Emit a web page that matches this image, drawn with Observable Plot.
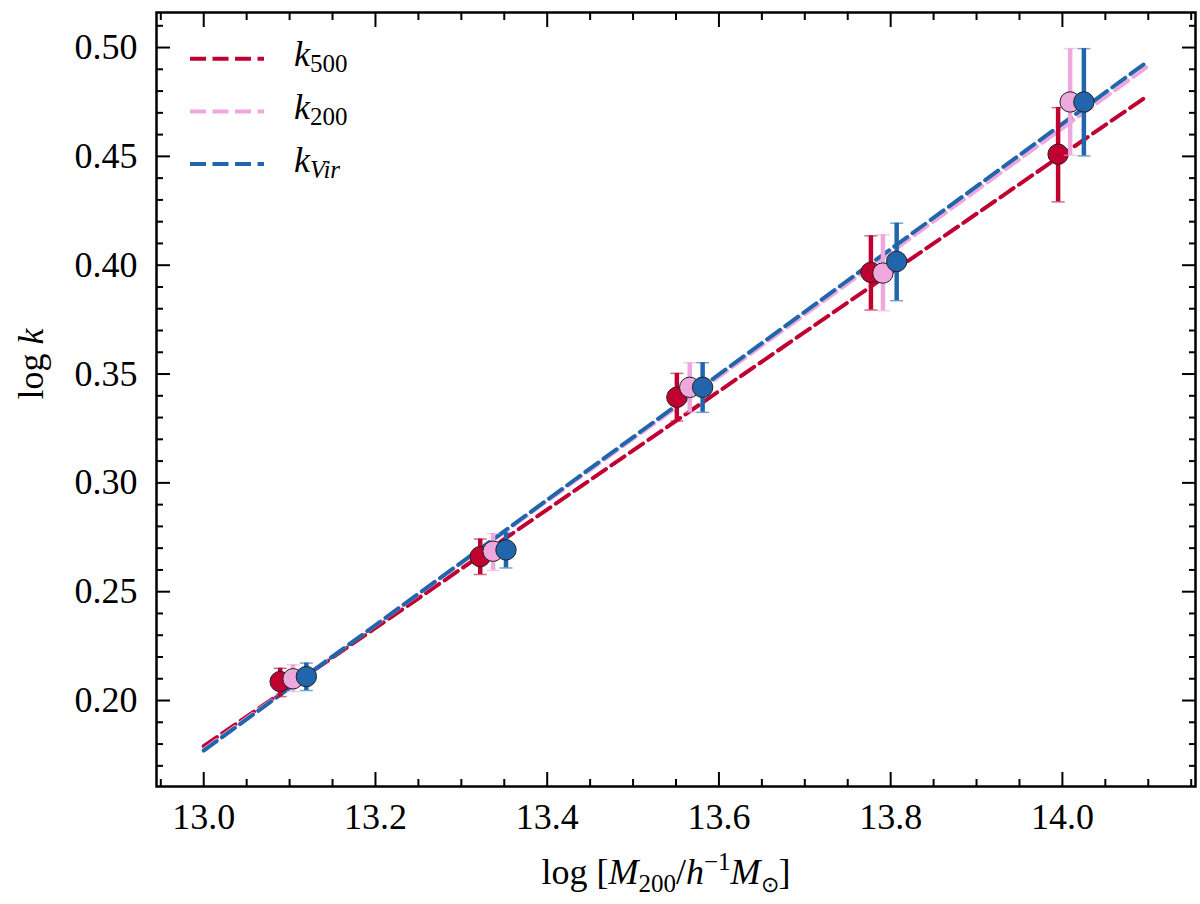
<!DOCTYPE html>
<html>
<head>
<meta charset="utf-8">
<script src="https://cdn.jsdelivr.net/npm/d3@7"></script>
<script src="https://cdn.jsdelivr.net/npm/@observablehq/plot@0.6"></script>
<style>
  html, body { margin: 0; padding: 0; background: white; overflow: hidden; }
  svg { display: block; }
</style>
</head>
<body>
<div id="chart"></div>
<script>
// ---- data ----
const seriesNames = ["k500", "k200", "kVir"];
const colors = ["#C00030", "#EEA8DE", "#2166AC"];

const k500X  = [13.089, 13.322, 13.551, 13.777, 13.995];
const k500Y  = [0.2087, 0.2661, 0.3393, 0.3967, 0.4510];
const k500Lo = [0.2018, 0.2579, 0.3284, 0.3794, 0.4291];
const k500Hi = [0.2148, 0.2742, 0.3503, 0.4135, 0.4724];

const k200X  = [13.104, 13.337, 13.566, 13.791, 14.009];
const k200Y  = [0.2100, 0.2686, 0.3439, 0.3964, 0.4750];
const k200Lo = [0.2041, 0.2598, 0.3324, 0.3791, 0.4505];
const k200Hi = [0.2164, 0.2767, 0.3552, 0.4140, 0.4995];

const kVirX  = [13.1195, 13.352, 13.581, 13.807, 14.025];
const kVirY  = [0.2110, 0.2692, 0.3439, 0.4017, 0.4750];
const kVirLo = [0.2046, 0.2609, 0.3324, 0.3837, 0.4502];
const kVirHi = [0.2172, 0.2770, 0.3552, 0.4193, 0.4995];

const fitX    = [13.0, 14.1];
const k500Fit = [0.179, 0.478];
const k200Fit = [0.1775, 0.4915];
const kVirFit = [0.177, 0.4938];

const xMajor = [13.0, 13.2, 13.4, 13.6, 13.8, 14.0];
const xMinor = [12.95, 13.05, 13.1, 13.15, 13.25, 13.3, 13.35, 13.45, 13.5, 13.55, 13.65, 13.7, 13.75, 13.85, 13.9, 13.95, 14.05, 14.1, 14.15];
const yMajor = [0.20, 0.25, 0.30, 0.35, 0.40, 0.45, 0.50];
const yMinor = [0.17, 0.18, 0.19, 0.21, 0.22, 0.23, 0.24, 0.26, 0.27, 0.28, 0.29, 0.31, 0.32, 0.33, 0.34, 0.36, 0.37, 0.38, 0.39, 0.41, 0.42, 0.43, 0.44, 0.46, 0.47, 0.48, 0.49, 0.51];

// ---- tables ----
const pts = [
  {x: k500X, y: k500Y, lo: k500Lo, hi: k500Hi},
  {x: k200X, y: k200Y, lo: k200Lo, hi: k200Hi},
  {x: kVirX, y: kVirY, lo: kVirLo, hi: kVirHi}
].map(s => s.x.map((x, i) => ({x, y: s.y[i], lo: s.lo[i], hi: s.hi[i]})));
const fits = [k500Fit, k200Fit, kVirFit].map(f => fitX.map((x, i) => ({x, y: f[i]})));

const FONT = "'Liberation Serif', 'Times New Roman', serif";
const FS = 36;
const DASH = "16,6.5";
const LW = 4;

// horizontal cap symbol
const capSymbol = {
  draw(context, size) {
    const r = Math.sqrt(size / Math.PI);
    context.moveTo(-r, 0);
    context.lineTo(r, 0);
  }
};

const marks = [];
fits.forEach((f, i) => {
  marks.push(Plot.line(f, {x: "x", y: "y", stroke: colors[i], strokeWidth: LW, strokeDasharray: DASH}));
});
pts.forEach((p, i) => {
  marks.push(Plot.ruleX(p, {x: "x", y1: "lo", y2: "hi", stroke: colors[i], strokeWidth: 4.5}));
  marks.push(Plot.dot(p, {x: "x", y: "lo", symbol: capSymbol, r: 6.5, stroke: colors[i], strokeWidth: 1.5, strokeOpacity: 0.6}));
  marks.push(Plot.dot(p, {x: "x", y: "hi", symbol: capSymbol, r: 6.5, stroke: colors[i], strokeWidth: 1.5, strokeOpacity: 0.6}));
  marks.push(Plot.dot(p, {x: "x", y: "y", r: 10.2, fill: colors[i], stroke: "#222", strokeWidth: 1}));
});

marks.push(Plot.axisX(xMajor, {anchor: "bottom", tickSize: 0, tickPadding: 17, tickFormat: d => d.toFixed(1), fontSize: FS, fontFamily: FONT, fontVariant: "normal", label: null}));
marks.push(Plot.axisY(yMajor, {anchor: "left", tickSize: 0, tickPadding: 19, tickFormat: d => d.toFixed(2), fontSize: FS, fontFamily: FONT, fontVariant: "normal", label: null}));
for (const a of ["bottom", "top"]) {
  marks.push(Plot.axisX(xMajor, {anchor: a, tickSize: -14, strokeWidth: 2, tickFormat: () => "", label: null}));
  marks.push(Plot.axisX(xMinor, {anchor: a, tickSize: -7, strokeWidth: 2, tickFormat: () => "", label: null}));
}
for (const a of ["left", "right"]) {
  marks.push(Plot.axisY(yMajor, {anchor: a, tickSize: -14, strokeWidth: 2, tickFormat: () => "", label: null}));
  marks.push(Plot.axisY(yMinor, {anchor: a, tickSize: -7, strokeWidth: 2, tickFormat: () => "", label: null}));
}
marks.push(Plot.frame({stroke: "black", strokeWidth: 2.5}));

marks.push(Plot.text(["log [M200/h-1M]"], {frameAnchor: "bottom", dy: 85.5, dx: -10, lineAnchor: "middle", fontSize: FS, fontFamily: FONT, className: "xlabel"}));
marks.push(Plot.text(["log k"], {frameAnchor: "left", dx: -125.5, rotate: -90, lineAnchor: "middle", fontSize: FS, fontFamily: FONT, className: "ylabel"}));

const chart = Plot.plot({
  width: 1200,
  height: 904,
  marginLeft: 156,
  marginRight: 5,
  marginTop: 12,
  marginBottom: 118,
  x: {domain: [12.945, 14.155]},
  y: {domain: [0.1605, 0.5161]},
  style: {fontFamily: FONT, background: "white", color: "black", overflow: "visible"},
  marks
});
document.getElementById("chart").appendChild(chart);

const svg = d3.select(chart);
// force serif on every text element (overrides stylesheet defaults)
svg.selectAll("text").style("font-family", FONT);

function rich(textEl, parts) {
  const t = d3.select(textEl);
  t.text(null);
  for (const p of parts) {
    const s = t.append("tspan").text(p.t);
    if (p.i) s.attr("font-style", "italic");
    if (p.fs) s.attr("font-size", p.fs);
    if (p.dy) s.attr("dy", p.dy);
  }
}

svg.selectAll(".xlabel text").each(function() {
  rich(this, [
    {t: "log ["}, {t: "M", i: true}, {t: "200", fs: 25, dy: 8},
    {t: "/", dy: -8}, {t: "h", i: true}, {t: "\u22121", fs: 25, dy: -14},
    {t: "M", i: true, dy: 14}, {t: "\u2299", fs: 22, dy: 8}, {t: "]", dy: -8}
  ]);
});
svg.selectAll(".ylabel text").each(function() {
  rich(this, [{t: "log "}, {t: "k", i: true}]);
});

// legend
const legendRows = [
  [{t: "k", i: true}, {t: "500", fs: 25, dy: 6}],
  [{t: "k", i: true}, {t: "200", fs: 25, dy: 6}],
  [{t: "k", i: true}, {t: "Vir", i: true, fs: 25, dy: 6}]
];
const lg = svg.append("g").attr("font-family", FONT).style("font-family", FONT).attr("font-size", FS).attr("text-anchor", "start");
legendRows.forEach((row, i) => {
  const yy = 58.7 + i * 52.7;
  lg.append("line").attr("x1", 190).attr("x2", 264).attr("y1", yy).attr("y2", yy)
    .attr("stroke", colors[i]).attr("stroke-width", LW).attr("stroke-dasharray", DASH);
  const t = lg.append("text").attr("x", 294).attr("y", yy + 7.5).node();
  rich(t, row);
});
</script>
</body>
</html>
